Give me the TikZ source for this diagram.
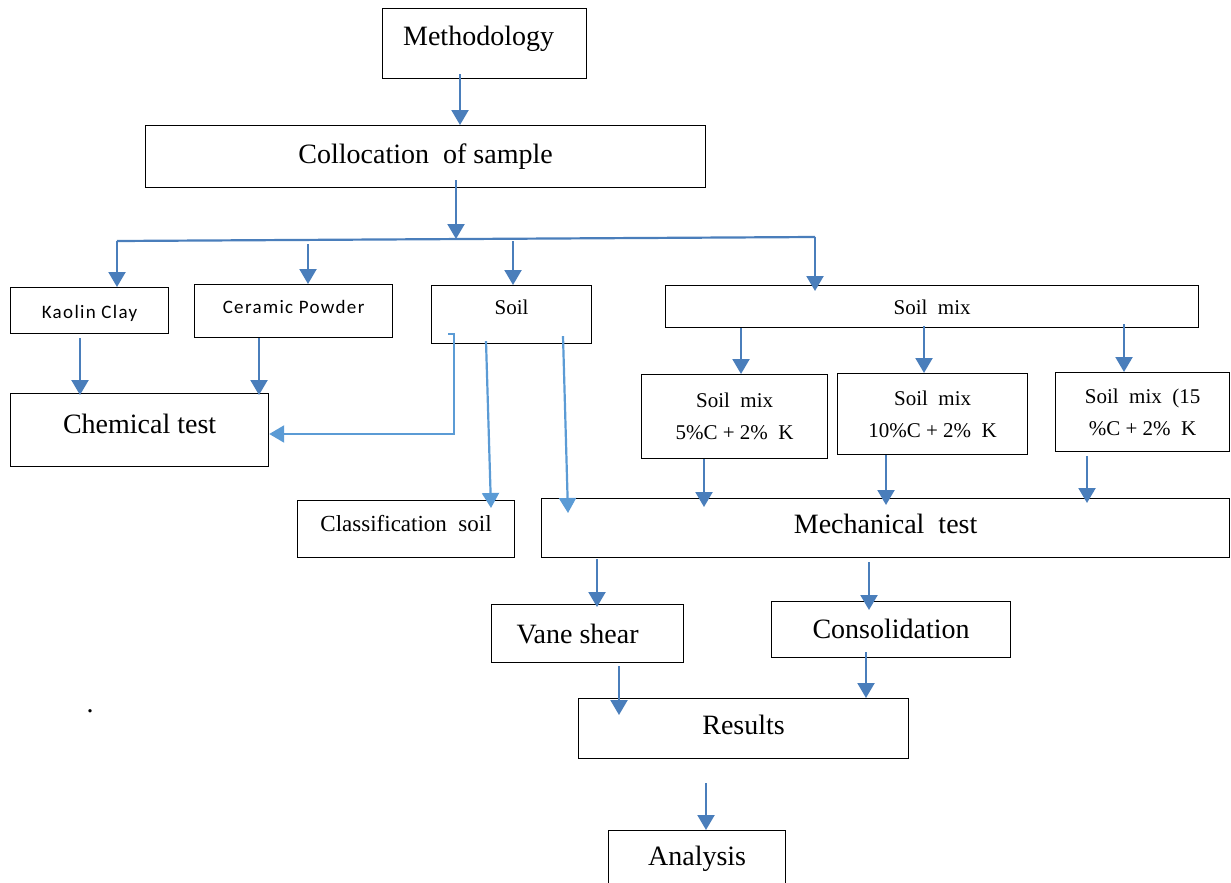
\documentclass[tikz,border=0pt]{standalone}
\usepackage{fontspec}
\setmainfont{Liberation Serif}
\newfontfamily\calfont[LetterSpace=7]{Carlito}
\usetikzlibrary{arrows.meta}
\definecolor{arrowblue}{HTML}{4A7EBB}
\definecolor{lightblue}{HTML}{5B9BD5}

\begin{document}
\begin{tikzpicture}[x=1pt, y=-1pt,
    box/.style={draw, line width=1.2pt, inner sep=0pt, anchor=north west},
    big/.style={font=\fontsize{28}{32}\selectfont},
    small/.style={font=\fontsize{21}{32}\selectfont},
    cal/.style={font=\calfont\fontsize{19}{22}\selectfont},
    arr/.style={draw=arrowblue, line width=2.2pt, -{Triangle[width=17pt,length=15pt]}},
    arrl/.style={arr, draw=lightblue}]
    \useasboundingbox (0,0) rectangle (1231,883);

    % Draw boxes
    \node[box, big, minimum width=204pt, text height=37pt, text depth=33pt] (meth) at (382,8) {Methodology\kern12pt};
    \node[box, big, minimum width=560pt, text height=38pt, text depth=24pt] (coll) at (145,125) {Collocation\ \ of sample};
    \node[box, cal, minimum width=158pt, text height=31pt, text depth=15pt] (kaolin) at (10,287) {Kaolin Clay};
    \node[box, cal, minimum width=198pt, text height=29pt, text depth=24pt] (cer) at (194,284) {Ceramic Powder};
    \node[box, small, minimum width=160pt, text height=29pt, text depth=29pt] (soil) at (431,285) {Soil};
    \node[box, small, minimum width=533pt, text height=29pt, text depth=13pt] (smix) at (665,285) {Soil\ \ mix};
    \node[box, small, align=center, minimum width=186pt, minimum height=84pt] (mixa) at (641,374) {Soil\ \ mix\\5\%C + 2\%\ \ K};
    \node[box, small, align=center, minimum width=190pt, minimum height=81pt] (mixb) at (837,373) {Soil\ \ mix\\10\%C + 2\%\ \ K};
    \node[box, small, align=center, minimum width=174pt, minimum height=79pt] (mixc) at (1055,372) {Soil\ \ mix\ \ (15\\\%C + 2\%\ \ K};
    \node[box, big, minimum width=258pt, text height=40pt, text depth=33pt] (chem) at (10,393) {Chemical test};
    \node[box, font=\fontsize{23}{28}\selectfont, minimum width=217pt, text height=31pt, text depth=26pt] (cls) at (297,500) {Classification\ \ soil};
    \node[box, big, minimum width=688pt, text height=35pt, text depth=24pt] (mech) at (541,498) {Mechanical\ \ test};
    \node[box, big, minimum width=192pt, text height=39pt, text depth=19pt] (vane) at (491,604) {Vane shear\kern20pt};
    \node[box, big, minimum width=239pt, text height=37pt, text depth=19pt] (cons) at (771,601) {Consolidation};
    \node[box, big, minimum width=330pt, text height=36pt, text depth=24pt] (res) at (578,698) {Results};
    \node[box, big, minimum width=177pt, text height=35pt, text depth=25pt] (ana) at (608,830) {Analysis};
    \node[big] (dot) at (90,711) {.};

    % Draw the branch line
    \coordinate (busl) at (117,241);
    \coordinate (busm) at (456,239);
    \coordinate (busr) at (815,237);
    \draw[arrowblue, line width=2.2pt] (busl) -- (busr);

    % Draw arrows
    \draw[arr] ([yshift=5pt]meth.south -| 460,0) -- (coll.north -| 460,0);
    \draw[arr] ([yshift=8pt]coll.south -| busm) -- (busm);
    \draw[arr] (busl) -- (kaolin.north -| busl);
    \draw[arr] ([yshift=-3pt]busl -| 308,0) -- (cer.north -| 308,0);
    \draw[arr] (busl -| 513,0) -- (soil.north -| 513,0);
    \draw[arr] (busr) -- ([yshift=-6pt]smix.north -| busr);
    \draw[arr] ([yshift=-4pt]kaolin.south -| 80,0) -- ([yshift=-2pt]chem.north -| 80,0);
    \draw[arr] (cer.south -| 259,0) -- ([yshift=-2pt]chem.north -| 259,0);
    \draw[arrl] ([yshift=10pt]soil.south -| 448,0) -- ([yshift=10pt]soil.south -| 454,0) |- (chem.east |- 0,434);
    \draw[arrl] ([yshift=3pt]soil.south -| 486,0) -- ([yshift=-8pt]cls.north -| 491,0);
    \draw[arrl] ([yshift=8pt]soil.south -| 563,0) -- ([yshift=-15pt]mech.north -| 568,0);
    \draw[arr] (smix.south -| 741,0) -- (mixa.north -| 741,0);
    \draw[arr] ([yshift=2pt]smix.south -| 924,0) -- (mixb.north -| 924,0);
    \draw[arr] ([yshift=4pt]smix.south -| 1124,0) -- (mixc.north -| 1124,0);
    \draw[arr] (mixa.south -| 704,0) -- ([yshift=-9pt]mech.north -| 704,0);
    \draw[arr] (mixb.south -| 886,0) -- ([yshift=-7pt]mech.north -| 886,0);
    \draw[arr] ([yshift=-4pt]mixc.south -| 1087,0) -- ([yshift=-5pt]mech.north -| 1087,0);
    \draw[arr] ([yshift=-1pt]mech.south -| 597,0) -- ([yshift=-3pt]vane.north -| 597,0);
    \draw[arr] ([yshift=-4pt]mech.south -| 869,0) -- ([yshift=-9pt]cons.north -| 869,0);
    \draw[arr] ([yshift=-3pt]vane.south -| 619,0) -- ([yshift=-17pt]res.north -| 619,0);
    \draw[arr] ([yshift=6pt]cons.south -| 866,0) -- (res.north -| 866,0);
    \draw[arr] ([yshift=-24pt]res.south -| 706,0) -- (ana.north -| 706,0);
\end{tikzpicture}
\end{document}
